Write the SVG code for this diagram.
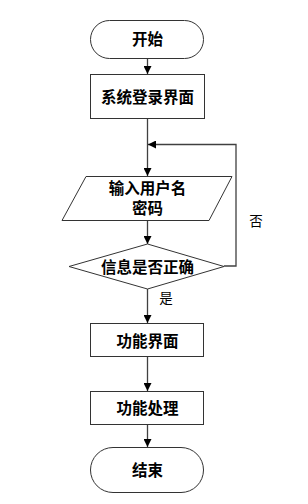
<svg xmlns="http://www.w3.org/2000/svg" width="308" height="504" viewBox="0 0 308 504">
<style>
.shape{fill:#fff;stroke:#333;stroke-width:1}
.lbl{font-family:"Liberation Sans","Noto Sans CJK SC",sans-serif;font-size:15.5px;font-weight:bold;fill:#000;text-anchor:middle;dominant-baseline:central}
.note{font-family:"Liberation Sans","Noto Sans CJK SC",sans-serif;font-size:13.5px;fill:#000;text-anchor:middle;dominant-baseline:central}
.conn{fill:none;stroke:#404040;stroke-width:1.3}
</style>
<defs>
<marker id="arr" viewBox="0 0 10 10" refX="10" refY="5" markerWidth="8" markerHeight="8" markerUnits="userSpaceOnUse" orient="auto">
<path d="M0,0 L10,5 L0,10 Z" fill="#000"/>
</marker>
</defs>
<rect width="308" height="504" fill="#fff"/>
<g id="connectors">
<line class="conn" x1="147.5" y1="59" x2="147.5" y2="74" marker-end="url(#arr)"/>
<line class="conn" x1="147.5" y1="119" x2="147.5" y2="176" marker-end="url(#arr)"/>
<line class="conn" x1="147.5" y1="220" x2="147.5" y2="244" marker-end="url(#arr)"/>
<polyline class="conn" points="224,266 236,266 236,144.5 148,144.5" marker-end="url(#arr)"/>
<line class="conn" x1="147.5" y1="289" x2="147.5" y2="323" marker-end="url(#arr)"/>
<line class="conn" x1="147.5" y1="357" x2="147.5" y2="391" marker-end="url(#arr)"/>
<line class="conn" x1="147.5" y1="425" x2="147.5" y2="447" marker-end="url(#arr)"/>
<text class="note" x="256" y="221">否</text>
<text class="note" x="166" y="298">是</text>
</g>
<g id="start">
<rect class="shape" x="90.5" y="20.5" width="113" height="38" rx="19"/>
<text class="lbl" x="147.5" y="39.5">开始</text>
</g>
<g id="login">
<rect class="shape" x="90.5" y="74.5" width="114" height="44"/>
<text class="lbl" x="147.5" y="97">系统登录界面</text>
</g>
<g id="input">
<polygon class="shape" points="86,176.5 232,176.5 209,220.5 62,220.5"/>
<text class="lbl" x="147.5" y="188">输入用户名</text>
<text class="lbl" x="147.5" y="208">密码</text>
</g>
<g id="check">
<polygon class="shape" points="147.5,244 224,266.5 147.5,289 69,266.5"/>
<text class="lbl" x="147.5" y="267">信息是否正确</text>
</g>
<g id="func">
<rect class="shape" x="90.5" y="323.5" width="113" height="33"/>
<text class="lbl" x="147.5" y="341">功能界面</text>
</g>
<g id="process">
<rect class="shape" x="90.5" y="391.5" width="113" height="33"/>
<text class="lbl" x="147.5" y="408">功能处理</text>
</g>
<g id="end">
<rect class="shape" x="90.5" y="447.5" width="113" height="45" rx="22.5"/>
<text class="lbl" x="147.5" y="470">结束</text>
</g>
</svg>
